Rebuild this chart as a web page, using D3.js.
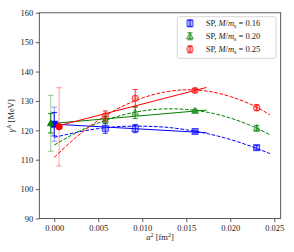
<!DOCTYPE html>
<html>
<head>
<meta charset="utf-8">
<script src="https://cdn.jsdelivr.net/npm/d3@7"></script>
<style>
body { margin: 0; background: #fff; }
text { font-family: "Liberation Serif", "DejaVu Serif", serif; fill: #222; }
</style>
</head>
<body>
<svg id="chart" width="294" height="252"></svg>
<script>
// lattice spacings a^2 [fm^2]
var a2 = [0.0058, 0.0092, 0.0160, 0.0230];
var massRatios = ["0.16", "0.20", "0.25"];
var colours = ["#0000ff", "#008000", "#ff0000"];
var shapes = ["square", "triangle", "circle"];

var spValues = [
    [120.7, 120.6, 119.6, 114.1],
    [123.6, 126.0, 126.6, 120.7],
    [124.9, 130.9, 133.6, 127.7]
];
var spErrors = [
    [1.7, 1.4, 0.5, 0.8],
    [1.2, 2.0, 0.6, 1.0],
    [1.7, 3.0, 0.6, 1.0]
];

// continuum points (shifted a little in x so they don't overlap)
var contX = [0.0000, -0.0004, 0.00055];
var contValues = [122.1, 122.4, 121.2];
var contErrInner = [4.0, 3.3, 0];
var contErrOuter = [5.8, 9.5, 13.3];

// linear fits (solid)
var linX = [0, 0.0173];
var linFits = [
    [122.1, 119.2],
    [122.4, 126.9],
    [121.2, 134.6]
];

// quadratic fits (dashed)
var quadX = [0, 0.0025, 0.005, 0.0075, 0.010, 0.0125, 0.015, 0.0175, 0.020, 0.0225, 0.0245];
var quadFits = [
    [117.6, 119.3, 120.6, 121.3, 121.4, 121.1, 120.2, 118.8, 116.9, 114.4, 112.1],
    [115.0, 119.2, 122.5, 125.0, 126.6, 127.3, 127.1, 126.1, 124.2, 121.4, 118.5],
    [110.8, 117.7, 123.4, 127.8, 131.0, 133.0, 133.8, 133.3, 131.5, 128.6, 125.3]
];

var xTicks = [0, 0.005, 0.010, 0.015, 0.020, 0.025];
var yTicks = [90, 100, 110, 120, 130, 140, 150, 160];

var margin = { top: 12.8, right: 13.3, bottom: 33.5, left: 39.3 };
var width = 294, height = 252;

var svg = d3.select("#chart");

var x = d3.scaleLinear()
    .domain([-0.0017, 0.02573])
    .range([margin.left, width - margin.right]);

var y = d3.scaleLinear()
    .domain([90, 160])
    .range([height - margin.bottom, margin.top]);

// axes
var xAxis = d3.axisBottom(x).tickValues(xTicks).tickSize(3.5).tickPadding(3)
    .tickFormat(d3.format(".3f"));
var yAxis = d3.axisLeft(y).tickValues(yTicks).tickSize(3.5).tickPadding(2.5)
    .tickFormat(d3.format("d"));

var gx = svg.append("g")
    .attr("transform", "translate(0," + (height - margin.bottom) + ")")
    .call(xAxis);
var gy = svg.append("g")
    .attr("transform", "translate(" + margin.left + ",0)")
    .call(yAxis);

[gx, gy].forEach(function (g) {
    g.select(".domain").remove();
    g.selectAll("line").attr("stroke", "#333").attr("stroke-width", 0.8);
    g.selectAll("text").attr("font-size", "8.5px").attr("fill", "#222")
        .style("font-family", "'Liberation Serif', serif");
});

var plot = svg.append("g");
plot.append("clipPath").attr("id", "clip")
    .append("rect")
    .attr("x", margin.left).attr("y", margin.top)
    .attr("width", width - margin.left - margin.right)
    .attr("height", height - margin.top - margin.bottom);

var inner = plot.append("g").attr("clip-path", "url(#clip)");

var line = d3.line()
    .x(function (d) { return x(d[0]); })
    .y(function (d) { return y(d[1]); });

var smooth = d3.line()
    .x(function (d) { return x(d[0]); })
    .y(function (d) { return y(d[1]); })
    .curve(d3.curveNatural);

function marker(g, shape, cx, cy, colour, filled) {
    var s;
    if (shape == "square") {
        s = g.append("rect").attr("x", cx - 3).attr("y", cy - 3)
            .attr("width", 6).attr("height", 6);
    } else if (shape == "triangle") {
        s = g.append("path").attr("d", "M" + cx + "," + (cy - 3.6) +
            "L" + (cx + 3.3) + "," + (cy + 2.4) + "L" + (cx - 3.3) + "," + (cy + 2.4) + "Z");
    } else {
        s = g.append("circle").attr("cx", cx).attr("cy", cy).attr("r", 3.2);
    }
    if (filled) {
        s.attr("fill", colour).attr("stroke", colour).attr("stroke-width", 0.8);
    } else {
        s.attr("fill", colour).attr("fill-opacity", 0.3)
            .attr("stroke", colour).attr("stroke-opacity", 0.75).attr("stroke-width", 0.9);
    }
}

function errbar(g, cx, lo, hi, colour, opacity, cap) {
    g.append("line").attr("x1", cx).attr("x2", cx).attr("y1", lo).attr("y2", hi)
        .attr("stroke", colour).attr("stroke-opacity", opacity).attr("stroke-width", 1);
    [lo, hi].forEach(function (v) {
        g.append("line").attr("x1", cx - cap).attr("x2", cx + cap).attr("y1", v).attr("y2", v)
            .attr("stroke", colour).attr("stroke-opacity", opacity).attr("stroke-width", 1);
    });
}

colours.forEach(function (c, i) {
    // dashed quadratic fit
    inner.append("path")
        .datum(quadX.map(function (v, j) { return [v, quadFits[i][j]]; }))
        .attr("d", smooth)
        .attr("fill", "none").attr("stroke", c).attr("stroke-width", 1)
        .attr("stroke-dasharray", "3.7,1.6");
    // solid linear fit
    inner.append("path")
        .datum(linX.map(function (v, j) { return [v, linFits[i][j]]; }))
        .attr("d", line)
        .attr("fill", "none").attr("stroke", c).attr("stroke-width", 1);
});

colours.forEach(function (c, i) {
    var g = inner.append("g");
    a2.forEach(function (v, j) {
        var cx = x(v);
        errbar(g, cx, y(spValues[i][j] - spErrors[i][j]), y(spValues[i][j] + spErrors[i][j]), c, 0.8, 2.6);
        marker(g, shapes[i], cx, y(spValues[i][j]), c, false);
    });
    // continuum
    var cx = x(contX[i]);
    errbar(g, cx, y(contValues[i] - contErrOuter[i]), y(contValues[i] + contErrOuter[i]), c, 0.4, 2.8);
    if (contErrInner[i] > 0)
        errbar(g, cx, y(contValues[i] - contErrInner[i]), y(contValues[i] + contErrInner[i]), c, 0.9, 2.8);
    marker(g, shapes[i], cx, y(contValues[i]), c, true);
});

// frame
svg.append("rect")
    .attr("x", margin.left).attr("y", margin.top)
    .attr("width", width - margin.left - margin.right)
    .attr("height", height - margin.top - margin.bottom)
    .attr("fill", "none").attr("stroke", "#333").attr("stroke-width", 0.8);

// legend
var leg = svg.append("g");
leg.append("rect")
    .attr("x", 177.3).attr("y", 16.7).attr("width", 98.7).attr("height", 41.6)
    .attr("rx", 2).attr("fill", "#fff").attr("fill-opacity", 0.8)
    .attr("stroke", "#ccc").attr("stroke-width", 0.8);

massRatios.forEach(function (m, i) {
    var ly = 23.3 + i * 13;
    var g = leg.append("g");
    errbar(g, 190, ly - 3.5, ly + 3.5, colours[i], 0.8, 2.6);
    marker(g, shapes[i], 190, ly, colours[i], false);
    var t = g.append("text").attr("x", 205.7).attr("y", ly + 3).attr("font-size", "8.5px");
    t.append("tspan").text("SP,  ");
    t.append("tspan").attr("font-style", "italic").text("M");
    t.append("tspan").text("/");
    t.append("tspan").attr("font-style", "italic").text("m");
    t.append("tspan").attr("font-size", "6px").attr("dy", 1.5).text("s");
    t.append("tspan").attr("dy", -1.5).text(" = " + m);
});

// axis labels
var xl = svg.append("text")
    .attr("x", (margin.left + width - margin.right) / 2)
    .attr("y", 240)
    .attr("text-anchor", "middle").attr("font-size", "8.5px");
xl.append("tspan").attr("font-style", "italic").text("a");
xl.append("tspan").attr("font-size", "6px").attr("dy", -3).text("2");
xl.append("tspan").attr("dy", 3).text(" [fm");
xl.append("tspan").attr("font-size", "6px").attr("dy", -3).text("2");
xl.append("tspan").attr("dy", 3).text("]");

var yl = svg.append("text")
    .attr("transform", "translate(14," + ((margin.top + height - margin.bottom) / 2) + ") rotate(-90)")
    .attr("text-anchor", "middle").attr("font-size", "8.5px");
yl.append("tspan").attr("font-style", "italic").text("γ");
yl.append("tspan").attr("font-size", "6px").attr("dy", -3).text("A");
yl.append("tspan").attr("dy", 3).text(" [MeV]");
</script>
</body>
</html>
